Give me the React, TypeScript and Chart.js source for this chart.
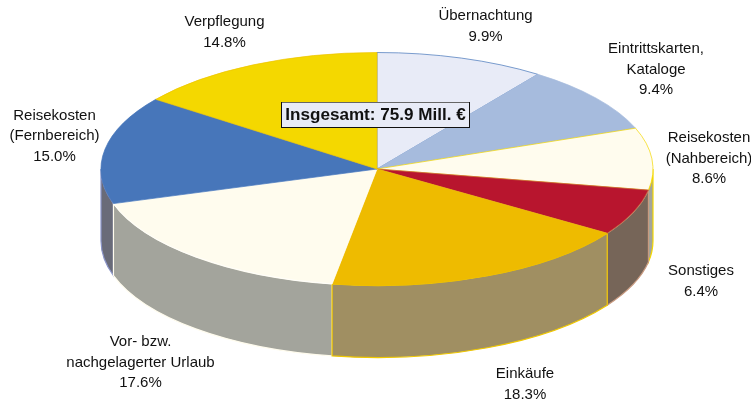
import React, { useEffect, useRef } from "react";
import { Chart, registerables } from "chart.js";

Chart.register(...registerables);

const categories = [
  "Übernachtung",
  "Eintrittskarten, Kataloge",
  "Reisekosten (Nahbereich)",
  "Sonstiges",
  "Einkäufe",
  "Vor- bzw. nachgelagerter Urlaub",
  "Reisekosten (Fernbereich)",
  "Verpflegung",
];
const shares = [9.9, 9.4, 8.6, 6.4, 18.3, 17.6, 15.0, 14.8];
const labelLines = [
  ["Übernachtung", "9.9%"],
  ["Eintrittskarten,", "Kataloge", "9.4%"],
  ["Reisekosten", "(Nahbereich)", "8.6%"],
  ["Sonstiges", "6.4%"],
  ["Einkäufe", "18.3%"],
  ["Vor- bzw.", "nachgelagerter Urlaub", "17.6%"],
  ["Reisekosten", "(Fernbereich)", "15.0%"],
  ["Verpflegung", "14.8%"],
];
const totalLabel = "Insgesamt: 75.9 Mill. €";

const topColors = ["#E8EBF7", "#A6BBDD", "#FFFCEE", "#B8152E", "#EEBB00", "#FFFCEE", "#4776BA", "#F4D800"];
const edgeColors = ["#4776BA", "#A6BBDD", "#F4D800", "#C8663A", "#EEBB00", "#FFFFFF", "#4776BA", "#EEC400"];
const wallColors = ["#8E93A8", "#8090A8", "#A3A49C", "#766558", "#A08F62", "#A3A49C", "#696B78", "#A09020"];
const wallEdges = ["#8E93A8", "#8090A8", "#F4D800", "#C89A80", "#F0C800", "#FFFCEE", "#8A94C8", "#A09020"];
const wallOrder = [6, 2, 3, 5, 4];
const labelCenters: [number, number][] = [
  [485.5, 16], [656, 49], [709, 138], [701, 271], [525, 374], [140.5, 342], [54.5, 115.5], [224.5, 22],
];

const RADIUS = 276;
const FLATTEN = 116.5 / 276;
const DEPTH = 72;
const LINE = 20.5;

const pie3d = {
  id: "pie3d",
  beforeDatasetDraw(chart: any) {
    const { ctx } = chart;
    const arcs = chart.getDatasetMeta(0).data;
    const first = arcs[0];
    const cx = first.x;
    const cy = first.y;
    const rx = first.outerRadius;
    const ry = rx * FLATTEN;
    ctx.save();
    wallOrder.forEach((i) => {
      const a = arcs[i];
      // only the part of each slice facing the viewer has a visible wall
      const start = Math.max(a.startAngle, 0);
      const end = Math.min(a.endAngle, Math.PI);
      if (end <= start) return;
      ctx.beginPath();
      ctx.ellipse(cx, cy, rx, ry, 0, start, end);
      ctx.lineTo(cx + rx * Math.cos(end), cy + ry * Math.sin(end) + DEPTH);
      ctx.ellipse(cx, cy + DEPTH, rx, ry, 0, end, start, true);
      ctx.closePath();
      ctx.fillStyle = wallColors[i];
      ctx.fill();
      ctx.lineWidth = 1.2;
      ctx.strokeStyle = wallEdges[i];
      ctx.stroke();
    });
    ctx.restore();
    ctx.save();
    ctx.translate(cx, cy);
    ctx.scale(1, FLATTEN);
    ctx.translate(-cx, -cy);
  },
  afterDatasetDraw(chart: any) {
    chart.ctx.restore();
  },
  afterDraw(chart: any) {
    const { ctx } = chart;
    ctx.save();
    ctx.fillStyle = "#111111";
    ctx.font = '15px "Liberation Sans"';
    ctx.textAlign = "center";
    ctx.textBaseline = "middle";
    labelLines.forEach((lines, i) => {
      const [x, yc] = labelCenters[i];
      lines.forEach((t, j) => ctx.fillText(t, x, yc + j * LINE));
    });
    // total box
    ctx.fillStyle = "#E8EBF7";
    ctx.fillRect(282, 103, 187, 25);
    ctx.strokeStyle = "#111111";
    ctx.lineWidth = 1;
    ctx.strokeRect(281.5, 102.5, 188, 25);
    ctx.strokeStyle = "#666666";
    ctx.beginPath();
    ctx.moveTo(282, 102.5);
    ctx.lineTo(469, 102.5);
    ctx.stroke();
    ctx.fillStyle = "#111111";
    ctx.font = 'bold 17.1px "Liberation Sans"';
    ctx.fillText(totalLabel, 375.5, 115);
    ctx.restore();
  },
};

export default function App() {
  const ref = useRef<HTMLCanvasElement>(null);
  useEffect(() => {
    document.body.style.margin = "0";
    const chart = new Chart(ref.current!, {
      type: "pie",
      data: {
        labels: categories,
        datasets: [
          {
            data: shares,
            backgroundColor: topColors,
            borderColor: edgeColors,
            borderWidth: 1,
            clip: false,
          } as any,
        ],
      },
      options: {
        responsive: false,
        animation: false,
        radius: RADIUS,
        layout: { padding: { left: 3, right: 0, top: 0, bottom: 65 } },
        plugins: { legend: { display: false }, tooltip: { enabled: false }, title: { display: false } },
      } as any,
      plugins: [pie3d],
    });
    return () => chart.destroy();
  }, []);
  return <canvas ref={ref} width={751} height={403} style={{ display: "block" }} />;
}
